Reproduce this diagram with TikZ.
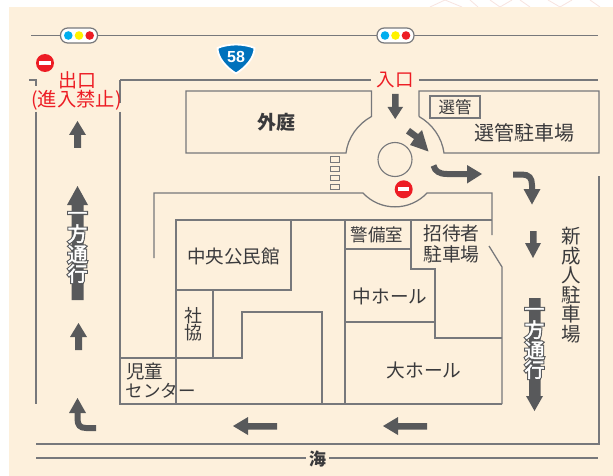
\documentclass[tikz,border=0pt]{standalone}
\usepackage{fontspec}
\setmainfont{Noto Sans CJK JP}
\newfontfamily\haloface[FakeBold=13]{Noto Sans CJK JP}
\newfontfamily\whiteface[FakeBold=2]{Noto Sans CJK JP}
\newfontfamily\labelsans{Liberation Sans}
\definecolor{cream}{HTML}{FDF0DC}
\definecolor{roadline}{HTML}{77787B}
\definecolor{arrowgrey}{HTML}{58595B}
\definecolor{txt}{HTML}{3A3A3C}
\definecolor{redtxt}{HTML}{ED1C24}
\definecolor{sigblue}{HTML}{00AEEF}
\definecolor{sigyellow}{HTML}{FFF200}
\definecolor{shield}{HTML}{0072BC}
\definecolor{petal}{HTML}{F8E4E0}
\newcommand{\fsz}[1]{\fontsize{#1}{#1}\selectfont}
\tikzset{
  wall/.style={draw=roadline,line width=1.25pt,line join=miter},
  arrowfill/.style={fill=arrowgrey,draw=none},
  turnshaft/.style={draw=arrowgrey,line width=6pt},
  lbl/.style={inner sep=0pt,outer sep=0pt,text=txt,align=center},
  redlbl/.style={inner sep=0pt,outer sep=0pt,text=redtxt,align=center},
  signal/.style={draw=roadline,line width=1.2pt,fill=white,rounded corners=7.2pt,minimum width=37pt,minimum height=15pt,inner sep=0pt},
  lamp/.style={circle,inner sep=0pt,minimum size=8.6pt},
  noentry/.style={circle,fill=redtxt,inner sep=0pt,minimum size=18pt},
  noentrybar/.style={fill=white,inner sep=0pt,minimum width=11.5pt,minimum height=4pt},
  crossbox/.style={draw=roadline,line width=1.1pt,minimum width=9.5pt,minimum height=5.5pt,inner sep=0pt},
  oneway/.style={inner sep=0pt,outer sep=0pt,align=center},
}
\newcommand{\onewaytext}{一\\[0.5pt]方\\[0.5pt]通\\[-0.5pt]行}
\begin{document}
\begin{tikzpicture}[x=1pt,y=-1pt]
\useasboundingbox (0,0) rectangle (613,476);
% page ground
\fill[white] (0,0) rectangle (613,476);
\draw[petal,line width=0.8pt] (430,7)--(445,0) (445,0)--(462,7) (478,7)--(470,0) (500,7)--(490,0) (500,7)--(512,0) (530,7)--(520,0) (560,7)--(548,0) (560,7)--(572,0) (600,7)--(590,0);
\fill[cream] (9,7) rectangle (613,476);
% roads
\draw[wall] (31,35.5) -- (598,35.5);
\draw[wall] (29,80) -- (36,80) -- (36,86);
\draw[wall] (36,112) -- (36,404);
\draw[wall] (120,80) -- (120,103);
\draw[wall] (120,112) -- (120,404) -- (502,404);
\draw[wall] (120,80) -- (371,80);
\draw[wall] (419,80) -- (598,80);
\draw[wall] (36,444) -- (599,444) -- (599,176);
\draw[wall] (36,458) -- (306,458);
\draw[wall] (329,458) -- (598,458);
% forecourt, roundabout, election parking
\draw[wall] (371.5,91) -- (186,91) -- (186,153) -- (346,153)
  .. controls (347.9,137.5) and (357.8,124) .. (371.5,116.5) -- cycle;
\draw[wall] (419,116.5) -- (419,91) -- (599,91) -- (599,153) -- (444,153)
  .. controls (442,137.5) and (432.2,124) .. (419,116.5);
\draw[roadline,line width=1.1pt] (395,159.5) circle[radius=17];
\draw[wall] (154,258) -- (154,193) -- (363,193)
  .. controls (380.3,211.5) and (409.7,211.5) .. (427,193) -- (492,193) -- (492,235);
\draw[wall] (489,246) -- (502,267) -- (502,404);
% buildings
\draw[wall] (176,404) -- (176,220) -- (492,220);
\draw[wall] (291,220) -- (291,290) -- (176,290);
\draw[wall] (213,290) -- (213,358);
\draw[wall] (120,358) -- (242,358) -- (242,312) -- (322,312) -- (322,404);
\draw[wall] (345,220) -- (345,404);
\draw[wall] (345,249) -- (411,249);
\draw[wall] (411,220) -- (411,269) -- (435,269) -- (435,338) -- (502,338);
\draw[wall] (345,322) -- (435,322);
% election box
\node[draw=roadline,line width=1.6pt,minimum width=50pt,minimum height=22pt,inner sep=0pt] (senbox) at (455,107) {};
% crossing
\node[crossbox] (cr1) at (335,159.5) {};
\node[crossbox] (cr2) at (335,169) {};
\node[crossbox] (cr3) at (335,178) {};
\node[crossbox] (cr4) at (335,187) {};
% signals
\node[signal] (sigL) at (79,35.5) {};
\node[lamp,fill=sigblue] (sigLa) at (68.3,35.5) {};
\node[lamp,fill=sigyellow] (sigLb) at (79,35.5) {};
\node[lamp,fill=redtxt] (sigLc) at (89.7,35.5) {};
\node[signal] (sigR) at (395.5,35.5) {};
\node[lamp,fill=sigblue] (sigRa) at (385,35.5) {};
\node[lamp,fill=sigyellow] (sigRb) at (395.5,35.5) {};
\node[lamp,fill=redtxt] (sigRc) at (406,35.5) {};
% no entry signs
\node[noentry] (noA) at (45,63) {};
\node[noentrybar] (noAb) at (45,63) {};
\node[noentry] (noB) at (403.7,189.3) {};
\node[noentrybar] (noBb) at (403.7,189.3) {};
% route shield
\draw[white,line width=1.8pt,fill=shield] (236,44.5) .. controls (243,44.5) and (250,46) .. (254.5,48)
  .. controls (254.5,58) and (245,68) .. (236,73.5) .. controls (227,68) and (217.5,58) .. (217.5,48)
  .. controls (222,46) and (229,44.5) .. (236,44.5) -- cycle;
\node[inner sep=0pt,text=white,font=\labelsans\bfseries\fsz{16}] (r58) at (236,57) {58};
% straight arrows
\fill[arrowfill] (392,94) -- (398.5,94) -- (398.5,107) -- (403,107) -- (395.2,119) -- (387.5,107) -- (392,107) -- cycle;
\fill[arrowfill] (77.5,121) -- (86,135) -- (81,135) -- (81,148) -- (74,148) -- (74,135) -- (69,135) -- cycle;
\fill[arrowfill] (78.5,323) -- (87,337) -- (82,337) -- (82,350) -- (75,350) -- (75,337) -- (70,337) -- cycle;
\fill[arrowfill] (233,426) -- (248,417) -- (248,423) -- (277,423) -- (277,429.5) -- (248,429.5) -- (248,435) -- cycle;
\fill[arrowfill] (383,426) -- (398,417) -- (398,423) -- (427,423) -- (427,429.5) -- (398,429.5) -- (398,435) -- cycle;
\fill[arrowfill] (533,258) -- (525,243) -- (530,243) -- (530,231) -- (536.5,231) -- (536.5,243) -- (541,243) -- cycle;
\fill[arrowfill] (428.5,151.5) -- (410,145) -- (414,139) -- (406,133.5) -- (410,128) -- (418,134) -- (422,130) -- cycle;
% turning arrows
\draw[turnshaft] (433.5,165.5) .. controls (435,171) and (439,174) .. (447,174) -- (469,174);
\fill[arrowfill] (482,174) -- (467,165) -- (467,183.5) -- cycle;
\draw[turnshaft] (513,174.5) -- (522,174.5) .. controls (529,174.5) and (532,178) .. (532,185) -- (532,191);
\fill[arrowfill] (532,204.5) -- (523.5,189) -- (540.5,189) -- cycle;
\draw[turnshaft] (96,428) -- (86,428) .. controls (80,428) and (77.5,425) .. (77.5,419) -- (77.5,411);
\fill[arrowfill] (77.5,398) -- (86,413) -- (69,413) -- cycle;
% one-way arrows
\fill[arrowfill] (77.5,186) -- (88,205) -- (83.5,205) -- (83.5,300) -- (71.5,300) -- (71.5,205) -- (67,205) -- cycle;
\fill[arrowfill] (534.5,411) -- (526,396) -- (529,396) -- (529,298) -- (540.5,298) -- (540.5,396) -- (543,396) -- cycle;
\node[oneway,text=arrowgrey,font=\haloface\fsz{20}] (owLh) at (77.5,247.5) {\onewaytext};
\node[oneway,text=white,font=\whiteface\fsz{20}] (owL) at (77.5,247.5) {\onewaytext};
\node[oneway,text=arrowgrey,font=\haloface\fsz{20}] (owRh) at (534.5,343.5) {\onewaytext};
\node[oneway,text=white,font=\whiteface\fsz{20}] (owR) at (534.5,343.5) {\onewaytext};
% labels
\node[redlbl,font=\fsz{19}] (exitA) at (77,80) {出口};
\node[redlbl,font=\fsz{19.3}] (exitB) at (76.5,100.5) {(進入禁止)};
\node[redlbl,font=\fsz{18.5}] (entry) at (395,80) {入口};
\node[lbl,font=\bfseries\fsz{19}] (gaitei) at (276,122) {外庭};
\node[lbl,font=\fsz{16.5}] (sen) at (455,107) {選管};
\node[lbl,font=\fsz{20}] (senp) at (524,133) {選管駐車場};
\node[lbl,font=\fsz{18.5}] (chuo) at (233.5,257) {中央公民館};
\node[lbl,font=\fsz{17.5}] (keibi) at (377,235) {警備室};
\node[lbl,font=\fsz{18.8}] (shotai) at (451.5,243.5) {招待者\\[2pt]駐車場};
\node[lbl,font=\fsz{18}] (shakyo) at (193.5,324.5) {社\\[-1pt]協};
\node[lbl,font=\fsz{18.5}] (jidoA) at (144.5,372) {児童};
\node[lbl,font=\fsz{17.5}] (jidoB) at (160.5,391) {センター};
\node[lbl,font=\fsz{18.6}] (naka) at (390,296) {中ホール};
\node[lbl,font=\fsz{18.7}] (dai) at (424,370) {大ホール};
\node[lbl,font=\fsz{19.5}] (shinsei) at (571.5,285) {新\\成\\人\\駐\\車\\場};
\node[lbl,font=\bfseries\fsz{17}] (umi) at (317.5,459) {海};
\end{tikzpicture}
\end{document}
